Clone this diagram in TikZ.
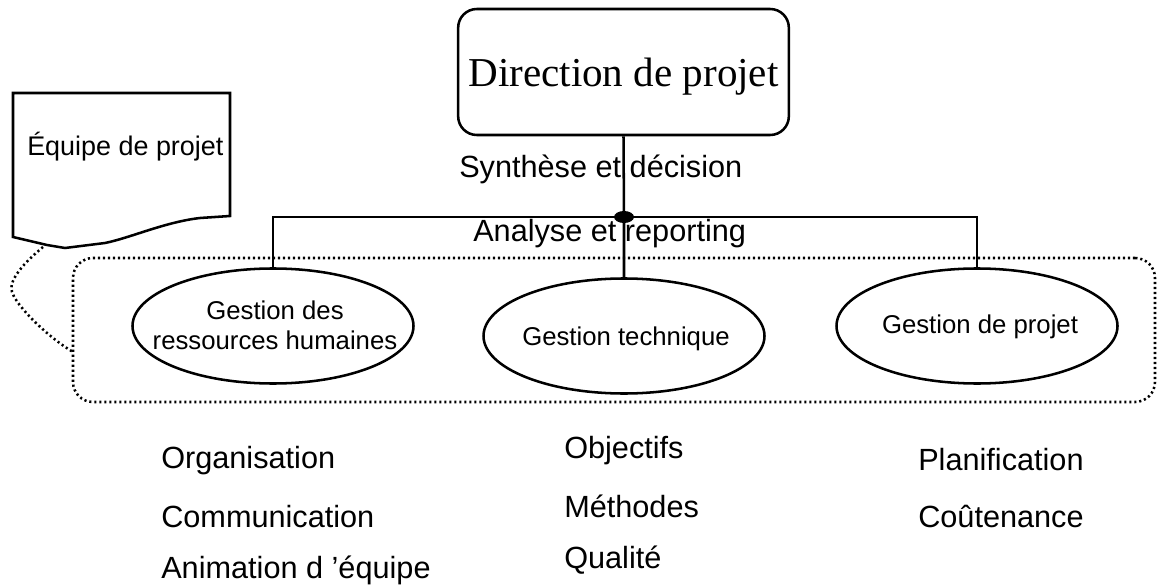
\documentclass[tikz,border=0pt]{standalone}
\usepackage{fontspec}
\setmainfont{Liberation Sans}
\newfontfamily\serifft{Liberation Serif}
\usetikzlibrary{shapes.geometric}
\begin{document}
\begin{tikzpicture}[x=0.75pt,y=-0.75pt,
  line width=1.9pt,
  dirbox/.style={draw,rounded corners=14pt,minimum width=248pt,minimum height=94.5pt,inner sep=0pt,
    text height=29pt,text depth=6.75pt,font=\serifft\fontsize{30.8}{36}\selectfont},
  gell/.style={draw,ellipse,minimum width=210.75pt,minimum height=86.25pt,inner sep=0pt},
  gtxt/.style={font=\fontsize{19.3}{22.5}\selectfont,align=center,inner sep=0pt},
  lbl/.style={font=\fontsize{23}{27}\selectfont,inner sep=0pt,anchor=base west},
  dotline/.style={line width=1.9pt,dash pattern=on 1.6pt off 2.15pt},
  hub/.style={fill=black,ellipse,minimum width=15pt,minimum height=9pt,inner sep=0pt}]
\useasboundingbox (0,0) rectangle (1157,588);

% group box
\node[draw,dotline,rounded corners=15pt,minimum width=811.5pt,minimum height=108pt,inner sep=0pt] (grp) at (614,330) {};

% top box
\node[dirbox] (dir) at (623.5,72) {Direction de projet};
\node[hub] (hub) at (624,217) {};

% ellipses
\node[gell] (e1) at (273,326) {};
\node[gell] (e2) at (624,336) {};
\node[gell] (e3) at (977,326) {};
\node[gtxt,anchor=center] (t1) at (275,325) {Gestion des\\ressources humaines};
\node[gtxt,anchor=base] (t2) at (626,345) {Gestion technique};
\node[gtxt,anchor=base] (t3) at (980,333) {Gestion de projet};

% connectors
\draw (dir.south) -- (hub.center) -- (e2.north);
\draw (e1.north) |- (hub.center) -| (e3.north);

\node[lbl] (syn) at (458,178) {Synthèse et décision};
\node[lbl] (ana) at (472,242) {Analyse et reporting};

% Equipe de projet document shape
\coordinate (q1) at (13,237);
\coordinate (q2) at (47,245);
\draw (q1) -- (13,93) -- (230,93) -- (230,216) -- (200,218)
  .. controls (165,222) and (130,238) .. (105,243) -- (65,248) -- (q2) -- cycle;
\node[font=\fontsize{20.2}{24}\selectfont,inner sep=0pt,anchor=base west] (eq) at (26,156) {Équipe de projet};

\coordinate (qs) at (43,247);
\coordinate (ge) at (73,352);
\draw[dotline] (qs) .. controls (25,262) and (8,280) .. (12,292)
  .. controls (16,305) and (45,335) .. (ge);

% lists
\node[lbl] (l11) at (160,468) {Organisation};
\node[lbl] (l12) at (160,527) {Communication};
\node[lbl] (l13) at (160,578) {Animation d ’équipe};
\node[lbl] (l21) at (563,458) {Objectifs};
\node[lbl] (l22) at (563,517) {Méthodes};
\node[lbl] (l23) at (563,568) {Qualité};
\node[lbl] (l31) at (917,470) {Planification};
\node[lbl] (l32) at (917,527) {Coûtenance};
\end{tikzpicture}
\end{document}
